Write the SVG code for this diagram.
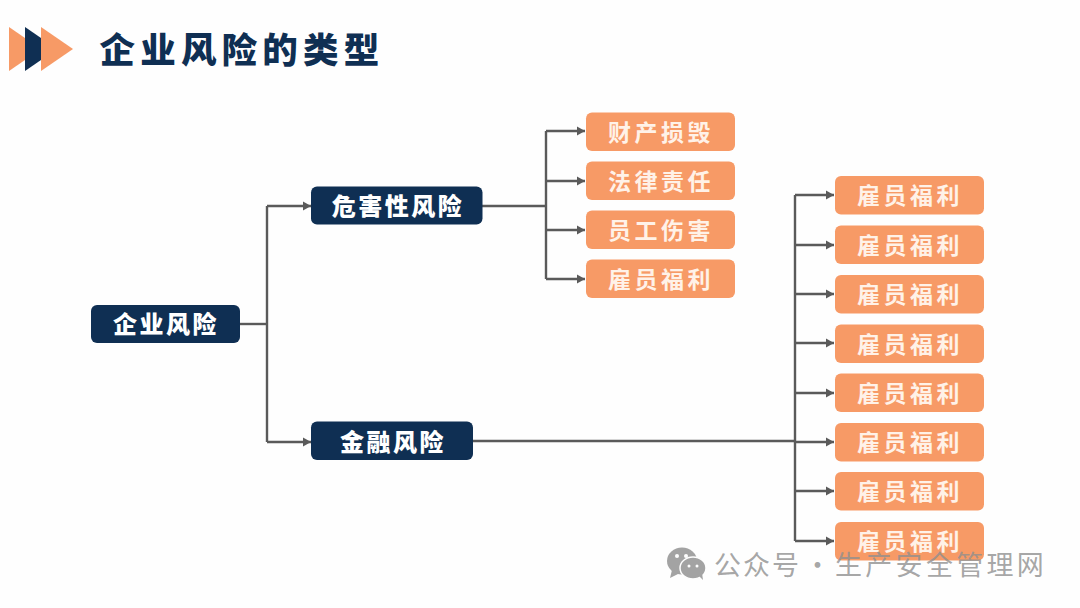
<svg xmlns="http://www.w3.org/2000/svg" width="1080" height="608" viewBox="0 0 1080 608">
<style>
text{font-family:"Noto Sans CJK SC","Noto Sans",sans-serif;text-anchor:middle;dominant-baseline:central}
.navy{fill:#0f2f53}
.or{fill:#f79a66}
.l1{font-size:24px;font-weight:900;fill:#fff;letter-spacing:2.500px}
.l2{font-size:23px;font-weight:700;fill:#fff2e8;letter-spacing:3.500px}
.c{fill:none;stroke:#5a5a5a;stroke-width:2.400}
.wm{font-size:27px;fill:#8f8f8f;fill-opacity:.8;text-anchor:start}
</style>
<defs>
<marker id="a" markerUnits="userSpaceOnUse" markerWidth="9" markerHeight="10" refX="8" refY="5" orient="auto"><path d="M0 0.500L8 5L0 9.500z" fill="#5a5a5a"/></marker>
<rect id="orbox" width="149" height="38.500" rx="6" class="or"/>
</defs>
<rect width="1080" height="608" fill="#fefefe"/>
<g id="title-mark">
<path d="M9 27L41 49L9 71z" class="or"/>
<path d="M25 27L57 49L25 71z" class="navy"/>
<path d="M41 27L73 49L41 71z" class="or"/>
</g>
<text id="title" x="242" y="47.500" font-size="35.500" font-weight="900" class="navy" letter-spacing="5.200">企业风险的类型</text>
<g id="connectors">
<path class="c" d="M240 324H267"/>
<path class="c" d="M267 206V442"/>
<path class="c" d="M267 206H311" marker-end="url(#a)"/>
<path class="c" d="M267 442H311" marker-end="url(#a)"/>
<path class="c" d="M482 206H546"/>
<path class="c" d="M546 131V279"/>
<path class="c" d="M546 131H585" marker-end="url(#a)"/>
<path class="c" d="M546 181H585" marker-end="url(#a)"/>
<path class="c" d="M546 230H585" marker-end="url(#a)"/>
<path class="c" d="M546 279H585" marker-end="url(#a)"/>
<path class="c" d="M473 441H795"/>
<path class="c" d="M795 195V541"/>
<path class="c" d="M795 195H834" marker-end="url(#a)"/>
<path class="c" d="M795 245H834" marker-end="url(#a)"/>
<path class="c" d="M795 294H834" marker-end="url(#a)"/>
<path class="c" d="M795 343H834" marker-end="url(#a)"/>
<path class="c" d="M795 393H834" marker-end="url(#a)"/>
<path class="c" d="M795 442H834" marker-end="url(#a)"/>
<path class="c" d="M795 491H834" marker-end="url(#a)"/>
<path class="c" d="M795 541H834" marker-end="url(#a)"/>
</g>
<g id="n-root"><rect x="91" y="305" width="149" height="38" rx="6" class="navy"/><text x="166" y="322.500" class="l1">企业风险</text></g>
<g id="n-hazard"><rect x="311" y="186.500" width="171.500" height="38" rx="6" class="navy"/><text x="398" y="204.500" class="l1">危害性风险</text></g>
<g id="n-finance"><rect x="311" y="421.500" width="162" height="38.500" rx="6" class="navy"/><text x="393" y="440" class="l1">金融风险</text></g>
<g id="h1"><use href="#orbox" x="586" y="112.500"/><text x="661" y="130.500" class="l2">财产损毁</text></g>
<g id="h2"><use href="#orbox" x="586" y="161.500"/><text x="661" y="179.500" class="l2">法律责任</text></g>
<g id="h3"><use href="#orbox" x="586" y="210.500"/><text x="661" y="228.500" class="l2">员工伤害</text></g>
<g id="h4"><use href="#orbox" x="586" y="259.500"/><text x="661" y="277.500" class="l2">雇员福利</text></g>
<g id="f1"><use href="#orbox" x="835" y="176"/><text x="910" y="194" class="l2">雇员福利</text></g>
<g id="f2"><use href="#orbox" x="835" y="225.500"/><text x="910" y="243.500" class="l2">雇员福利</text></g>
<g id="f3"><use href="#orbox" x="835" y="275"/><text x="910" y="293" class="l2">雇员福利</text></g>
<g id="f4"><use href="#orbox" x="835" y="324.500"/><text x="910" y="342.500" class="l2">雇员福利</text></g>
<g id="f5"><use href="#orbox" x="835" y="373.500"/><text x="910" y="391.500" class="l2">雇员福利</text></g>
<g id="f6"><use href="#orbox" x="835" y="423"/><text x="910" y="441" class="l2">雇员福利</text></g>
<g id="f7"><use href="#orbox" x="835" y="472"/><text x="910" y="490" class="l2">雇员福利</text></g>
<g id="f8"><use href="#orbox" x="835" y="522"/><text x="910" y="540" class="l2">雇员福利</text></g>
<g id="watermark">
<ellipse cx="682" cy="561" rx="15" ry="13.500" fill="#a3a3a3"/>
<path d="M672 570L670 578L680 573z" fill="#a3a3a3"/>
<ellipse cx="693" cy="568" rx="13" ry="11" fill="#a3a3a3" stroke="#fefefe" stroke-width="1.500"/>
<path d="M699 576L703 580L702 573z" fill="#a3a3a3"/>
<circle cx="677" cy="556" r="2" fill="#fefefe"/><circle cx="686" cy="556" r="2" fill="#fefefe"/>
<circle cx="689" cy="566" r="1.500" fill="#fefefe"/><circle cx="697" cy="566" r="1.500" fill="#fefefe"/>
<text x="714" y="563" class="wm" letter-spacing="2">公众号</text>
<text x="804" y="563" class="wm">·</text>
<text x="835" y="563" class="wm" letter-spacing="3.300">生产安全管理网</text>
</g>
</svg>
